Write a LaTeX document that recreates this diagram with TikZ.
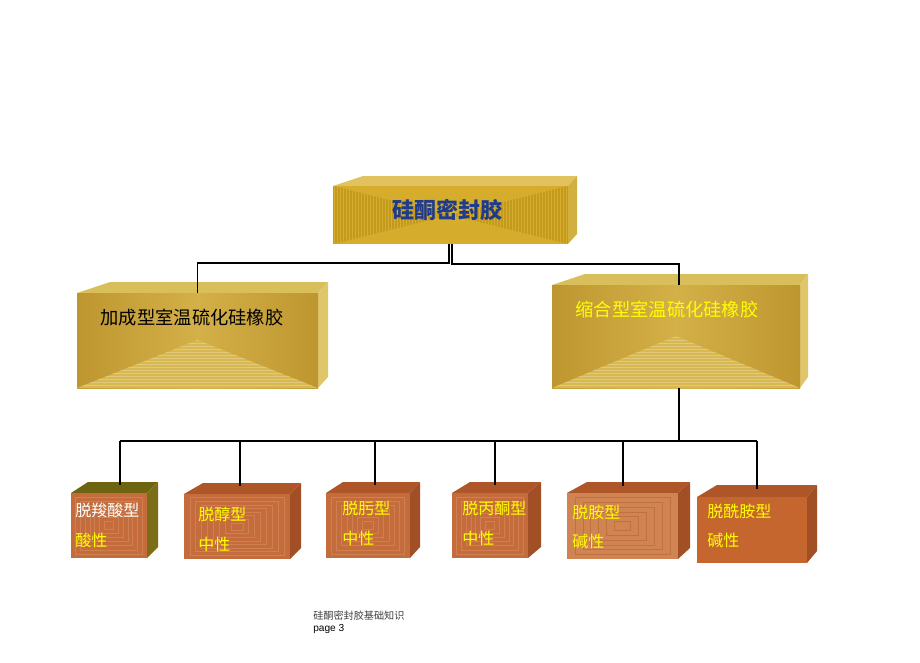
\documentclass[tikz,border=0pt]{standalone}
\usepackage{fontspec}
\setmainfont{Liberation Sans}
\newfontfamily\cjk{Noto Sans CJK SC}
\usetikzlibrary{fit}
\definecolor{goldF}{HTML}{D6AC2C}
\definecolor{goldS}{HTML}{C49A1E}
\definecolor{goldT}{HTML}{E2C25E}
\definecolor{goldSide}{HTML}{D2B040}
\definecolor{gold2D}{HTML}{BE9630}
\definecolor{gold2L}{HTML}{D4B048}
\definecolor{gold2B}{HTML}{D8B850}
\definecolor{gold2T}{HTML}{D9BE5C}
\definecolor{gold2Side}{HTML}{E0C66A}
\definecolor{brF}{HTML}{C46C3C}
\definecolor{brS}{HTML}{D08050}
\definecolor{brT}{HTML}{AE5628}
\definecolor{brSide}{HTML}{A34F26}
\definecolor{olT}{HTML}{6F6410}
\definecolor{olSide}{HTML}{7C6E16}
\definecolor{br5F}{HTML}{D08452}
\definecolor{br5S}{HTML}{C2703F}
\definecolor{br6F}{HTML}{C4662E}
\definecolor{titleblue}{HTML}{1F3C8C}
\definecolor{yel}{HTML}{FFFF00}
\newcommand\faces[9]{%
  \fill[#8] (#1,#2) -- (#5,#7) -- (#6,#7) -- (#3,#2) -- cycle;
  \fill[#9] (#3,#2) -- (#6,#7) -- (#6,{#4-(#2-#7)}) -- (#3,#4) -- cycle;
}
\newcommand\frames[6]{% x1 y1 x2 y2 color n
  \foreach \k in {1,...,#6}{
    \draw[#5,line width=0.5pt] ({#1+\k*(#3-#1)/(2*#6+2)},{#2+\k*(#4-#2)/(2*#6+2)}) rectangle ({#3-\k*(#3-#1)/(2*#6+2)},{#4-\k*(#4-#2)/(2*#6+2)});
  }
}
\tikzset{
  conn/.style={line width=1.4pt,black},
  face/.style={inner sep=0pt,outer sep=0pt,draw=none},
  lbl/.style={inner sep=0pt,anchor=west,font=\cjk\fontsize{12}{14}\selectfont,text=yel},
}
\begin{document}
\begin{tikzpicture}[x=0.75pt,y=-0.75pt]
\fill[white] (0,0) rectangle (920,663);
\useasboundingbox (0,0) rectangle (920,663);

% ---------- top box ----------
\faces{333}{186}{568}{244}{363}{577}{176}{goldT}{goldSide}
\node[face,fill=goldF,fit={(333,186)(568,244)}] (top) {};
\begin{scope}
  \clip (333,186) -- (450.5,215) -- (333,244) -- cycle;
  \foreach \i in {0,3,...,120} \draw[goldS,line width=0.9pt] (333+\i,186) -- (333+\i,244);
\end{scope}
\begin{scope}
  \clip (568,186) -- (450.5,215) -- (568,244) -- cycle;
  \foreach \i in {0,3,...,120} \draw[goldS,line width=0.9pt] (568-\i,186) -- (568-\i,244);
\end{scope}
\node[inner sep=0pt,text=titleblue,font=\cjk\bfseries\fontsize{16.5}{18}\selectfont] (ttl) at (447,210) {硅酮密封胶};

% ---------- left box ----------
\faces{77}{293}{318}{388}{110}{328}{282}{gold2T}{gold2Side}
\node[face,left color=gold2D,right color=gold2D,middle color=gold2L,fit={(77,293)(318,388)}] (L) {};
\begin{scope}
  \clip (77,388) -- (197.5,340) -- (318,388) -- cycle;
  \fill[gold2B] (77,388) -- (197.5,340) -- (318,388) -- cycle;
  \foreach \i in {0,3,...,48} \draw[gold2L!70!white,line width=0.5pt] (77,388-\i) -- (318,388-\i);
\end{scope}
\node[inner sep=0pt,text=black,font=\cjk\fontsize{13.7}{16}\selectfont] (Lt) at (192,318) {加成型室温硫化硅橡胶};

% ---------- right box ----------
\faces{552}{285}{800}{388}{585}{808}{274}{gold2T}{gold2Side}
\node[face,left color=gold2D,right color=gold2D,middle color=gold2L,fit={(552,285)(800,388)}] (R) {};
\begin{scope}
  \clip (552,388) -- (676,336) -- (800,388) -- cycle;
  \fill[gold2B] (552,388) -- (676,336) -- (800,388) -- cycle;
  \foreach \i in {0,3,...,52} \draw[gold2L!70!white,line width=0.5pt] (552,388-\i) -- (800,388-\i);
\end{scope}
\node[inner sep=0pt,text=yel,font=\cjk\fontsize{13.7}{16}\selectfont] (Rt) at (667,310) {缩合型室温硫化硅橡胶};

% ---------- bottom boxes ----------
\faces{71}{493}{147}{558}{88}{158}{482}{olT}{olSide}
\node[face,fill=brF,fit={(71,493)(147,558)}] (b1) {};
\frames{71}{493}{147}{558}{brS}{7}

\faces{184}{494}{290}{559}{203}{301}{483}{brT}{brSide}
\node[face,fill=brF,fit={(184,494)(290,559)}] (b2) {};
\frames{184}{494}{290}{559}{brS}{8}

\faces{326}{493}{410}{558}{343}{420}{482}{brT}{brSide}
\node[face,fill=brF,fit={(326,493)(410,558)}] (b3) {};
\frames{326}{493}{410}{558}{brS}{7}

\faces{452}{493}{528}{558}{470}{541}{482}{brT}{brSide}
\node[face,fill=brF,fit={(452,493)(528,558)}] (b4) {};
\frames{452}{493}{528}{558}{brS}{7}

\faces{567}{493}{678}{559}{587}{690}{482}{brT}{brSide}
\node[face,fill=br5F,fit={(567,493)(678,559)}] (b5) {};
\frames{567}{493}{678}{559}{br5S}{6}

\faces{697}{497}{807}{563}{717}{817}{485}{brT}{brSide}
\node[face,fill=br6F,fit={(697,497)(807,563)}] (b6) {};

% labels
\node[lbl,text=white] (l1a) at (75,510) {脱羧酸型};
\node[lbl] (l1b) at (75,540) {酸性};
\node[lbl] (l2a) at (198,514) {脱醇型};
\node[lbl] (l2b) at (198,544) {中性};
\node[lbl] (l3a) at (342,508) {脱肟型};
\node[lbl] (l3b) at (342,538) {中性};
\node[lbl] (l4a) at (462,508) {脱丙酮型};
\node[lbl] (l4b) at (462,538) {中性};
\node[lbl] (l5a) at (572,512) {脱胺型};
\node[lbl] (l5b) at (572,541) {碱性};
\node[lbl] (l6a) at (707,511) {脱酰胺型};
\node[lbl] (l6b) at (707,540) {碱性};

% ---------- connectors ----------
\draw[conn] ([xshift=-1.1pt]top.south) -- ++(0,19) -| (L.north);
\draw[conn] ([xshift=1.1pt]top.south) -- ++(0,20) -| ([xshift=2.2pt]R.north);
\coordinate (bus) at (679,441);
\coordinate (busL) at (120,441);
\coordinate (busR) at (757,441);
\coordinate (t1) at (120,485);
\coordinate (t2) at (240,486);
\coordinate (t3) at (375,485);
\coordinate (t4) at (495,485);
\coordinate (t5) at (623,486);
\coordinate (t6) at (757,489);
\draw[conn] ([xshift=2.2pt]R.south) -- (bus);
\draw[conn] (busL) -- (busR);
\foreach \t in {t1,t2,t3,t4,t5,t6} \draw[conn] (\t |- bus) -- (\t);

% ---------- footer ----------
\node[inner sep=0pt,anchor=west,text=black!75,font=\cjk\fontsize{7.6}{9}\selectfont] (f1) at (313,616) {硅酮密封胶基础知识};
\node[inner sep=0pt,anchor=west,text=black,font=\fontsize{7.6}{9}\selectfont] (f2) at (313,629) {page 3};
\end{tikzpicture}
\end{document}
